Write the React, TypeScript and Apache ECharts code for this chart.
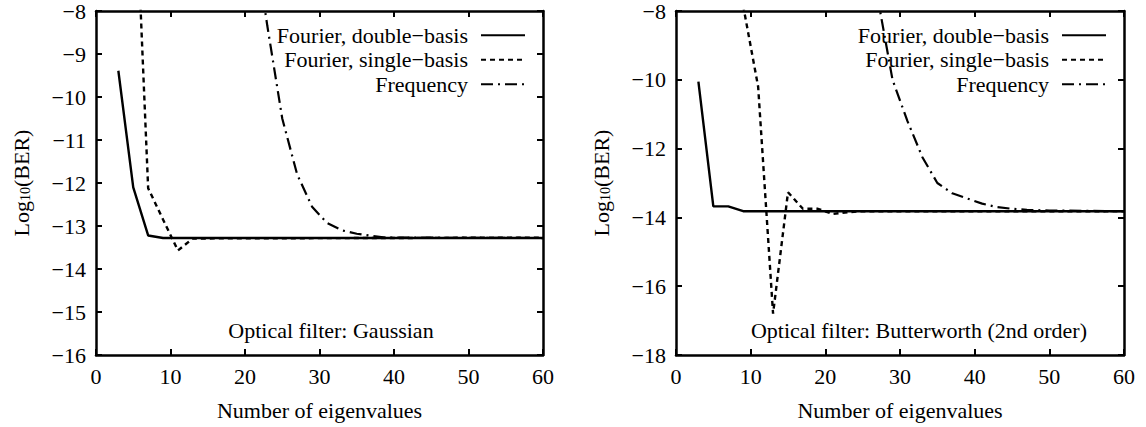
import React, { useEffect, useRef } from "react";
import * as echarts from "echarts";

const FONT = "'Liberation Serif', 'Times New Roman', Times, 'DejaVu Serif', serif";

const seriesNames = ["Fourier, double\u2212basis", "Fourier, single\u2212basis", "Frequency"];
const xTicks = { min: 0, max: 60, interval: 10 };

// Left panel: Gaussian optical filter
const gaussDouble: [number, number][] = [[3, -9.39], [5, -12.1], [7, -13.22], [9, -13.28], [60, -13.28]];
const gaussSingle: [number, number][] = [[5, -3.9], [7, -12.12], [9, -12.85], [11, -13.57], [13, -13.29], [60, -13.27]];
const gaussFreq: [number, number][] = [
  [21, -6.0], [23, -8.35], [25, -10.5], [27, -11.8], [29, -12.55], [31, -12.93], [33, -13.1],
  [35, -13.18], [37, -13.23], [39, -13.27], [41, -13.27], [60, -13.28],
];

// Right panel: Butterworth (2nd order) optical filter
const buttDouble: [number, number][] = [[3, -10.05], [5, -13.68], [7, -13.68], [9, -13.82], [60, -13.82]];
const buttSingle: [number, number][] = [
  [7, -5.0], [9, -7.85], [11, -10.2], [13, -16.8], [15, -13.27], [17, -13.75], [19, -13.75],
  [21, -13.9], [23, -13.85], [25, -13.82], [60, -13.82],
];
const buttFreq: [number, number][] = [
  [25, -5.5], [27, -7.6], [29, -10.0], [31, -11.2], [33, -12.25], [35, -13.0], [37, -13.3],
  [39, -13.45], [41, -13.6], [43, -13.7], [45, -13.75], [47, -13.78], [50, -13.8], [60, -13.82],
];

const leftY = { min: -16, max: -8, interval: 1 };
const rightY = { min: -18, max: -8, interval: 2 };

const leftNote = "Optical filter: Gaussian";
const rightNote = "Optical filter: Butterworth (2nd order)";

const styles = [
  { width: 2.4, type: "solid" as any },
  { width: 2.4, type: [5, 4] as any },
  { width: 2.2, type: [12, 5, 2, 5] as any },
];

function fmt(v: number) {
  return v < 0 ? "\u2212" + Math.abs(v) : String(v);
}

function xAxis(gridIndex: number, position: string, main: boolean) {
  return {
    type: "value",
    gridIndex,
    position,
    ...xTicks,
    axisLine: { show: true, onZero: false, lineStyle: { color: "#000", width: 2.5 } },
    axisTick: { show: true, inside: true, length: 6, lineStyle: { color: "#000", width: 2 } },
    axisLabel: { show: main, color: "#000", fontFamily: FONT, fontSize: 22, margin: 10, formatter: fmt },
    splitLine: { show: false },
    name: main ? "Number of eigenvalues" : "",
    nameLocation: "middle",
    nameGap: 44,
    nameTextStyle: { color: "#000", fontFamily: FONT, fontSize: 22 },
  };
}

function yAxis(gridIndex: number, position: string, main: boolean, range: any) {
  return {
    type: "value",
    gridIndex,
    position,
    ...range,
    axisLine: { show: true, onZero: false, lineStyle: { color: "#000", width: 2.5 } },
    axisTick: { show: true, inside: true, length: 6, lineStyle: { color: "#000", width: 2 } },
    axisLabel: { show: main, color: "#000", fontFamily: FONT, fontSize: 22, margin: 10, formatter: fmt },
    splitLine: { show: false },
    name: main ? "{a|Log}{s|10}{a|(BER)}" : "",
    nameLocation: "middle",
    nameRotate: 90,
    nameGap: 64,
    nameTextStyle: {
      color: "#000",
      fontFamily: FONT,
      rich: {
        a: { fontFamily: FONT, fontSize: 22, color: "#000", verticalAlign: "bottom", lineHeight: 26 },
        s: { fontFamily: FONT, fontSize: 14, color: "#000", verticalAlign: "bottom", lineHeight: 20 },
      },
    },
  };
}

function line(name: string, data: [number, number][], idx: number, grid: number) {
  return {
    type: "line",
    name,
    data,
    xAxisIndex: grid * 2,
    yAxisIndex: grid * 2,
    symbol: "none",
    showSymbol: false,
    lineStyle: { color: "#000", ...styles[idx] },
    itemStyle: { color: "#000" },
    z: 3 - idx,
  };
}

function legend(right: number) {
  return {
    data: seriesNames,
    orient: "vertical",
    right,
    top: 18,
    align: "right",
    itemWidth: 44,
    itemHeight: 12,
    itemGap: 0,
    selectedMode: false,
    itemStyle: { opacity: 0, borderWidth: 0 },
    textStyle: { color: "#000", fontFamily: FONT, fontSize: 22, lineHeight: 24.5, padding: [0, 8, 0, 0] },
  };
}

export default function App() {
  const ref = useRef<HTMLDivElement>(null);
  useEffect(() => {
    if (!ref.current) return;
    const chart = echarts.init(ref.current, undefined, { renderer: "svg" });
    chart.setOption({
      animation: false,
      backgroundColor: "#fff",
      textStyle: { fontFamily: FONT },
      grid: [
        { left: 96, top: 10, width: 447, height: 345 },
        { left: 676, top: 10, width: 448, height: 345 },
      ],
      xAxis: [xAxis(0, "bottom", true), xAxis(0, "top", false), xAxis(1, "bottom", true), xAxis(1, "top", false)],
      yAxis: [
        yAxis(0, "left", true, leftY),
        yAxis(0, "right", false, leftY),
        yAxis(1, "left", true, rightY),
        yAxis(1, "right", false, rightY),
      ],
      legend: [legend(615), legend(34)],
      series: [
        line(seriesNames[0], gaussDouble, 0, 0),
        line(seriesNames[1], gaussSingle, 1, 0),
        line(seriesNames[2], gaussFreq, 2, 0),
        line(seriesNames[0], buttDouble, 0, 1),
        line(seriesNames[1], buttSingle, 1, 1),
        line(seriesNames[2], buttFreq, 2, 1),
      ],
      graphic: [
        {
          type: "text",
          x: 331,
          y: 330,
          style: { text: leftNote, fontFamily: FONT, fontSize: 22, fill: "#000", align: "center", verticalAlign: "middle" },
        },
        {
          type: "text",
          x: 1087,
          y: 330,
          style: { text: rightNote, fontFamily: FONT, fontSize: 22, fill: "#000", align: "right", verticalAlign: "middle" },
        },
      ],
    });
    return () => chart.dispose();
  }, []);
  return <div ref={ref} style={{ position: "absolute", left: 0, top: 0, width: 1146, height: 427 }} />;
}
